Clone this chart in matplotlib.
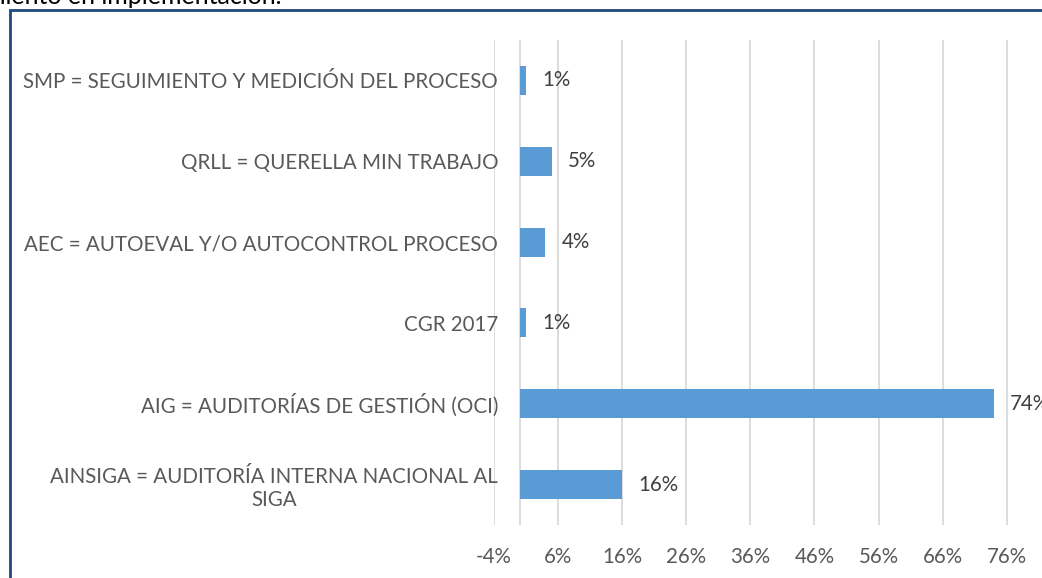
import matplotlib
matplotlib.use("Agg")
import matplotlib.pyplot as plt
from matplotlib.patches import Rectangle
from matplotlib.ticker import FuncFormatter

# datos
categorias = [
    "SMP = SEGUIMIENTO Y MEDICIÓN DEL PROCESO",
    "QRLL = QUERELLA MIN TRABAJO",
    "AEC = AUTOEVAL Y/O AUTOCONTROL PROCESO",
    "CGR 2017",
    "AIG = AUDITORÍAS DE GESTIÓN (OCI)",
    "AINSIGA = AUDITORÍA INTERNA NACIONAL AL\nSIGA",
]
valores = [0.01, 0.05, 0.04, 0.01, 0.74, 0.16]
ticks_x = [-0.04, 0.06, 0.16, 0.26, 0.36, 0.46, 0.56, 0.66, 0.76]

plt.rcParams['font.family'] = ['Lato', 'DejaVu Sans']

W, H = 1042, 578
fig = plt.figure(figsize=(W / 100, H / 100), dpi=100)
fig.patch.set_facecolor("white")

# marco azul del grafico (recortado a derecha y abajo)
fig.patches.append(Rectangle((10 / W, -0.1), 1.2, 1 - 10.5 / H + 0.1,
                             transform=fig.transFigure, fill=False,
                             edgecolor="#1F497D", linewidth=2))

# texto cortado arriba
fig.text(-15 / W, 1 - 4 / H, "miento en implementación.", fontsize=18,
         color="black", ha="left", va="baseline")

ax = fig.add_axes([494 / W, 1 - 525 / H, 1 - 494 / W, 485 / H])
y = list(range(len(categorias)))
ax.barh(y, valores, height=0.36, color="#5B9BD5", zorder=3)

ax.set_xlim(-0.04, 0.815)
ax.set_ylim(len(categorias) - 0.5, -0.5)
ax.set_xticks(ticks_x)
ax.xaxis.set_major_formatter(FuncFormatter(lambda v, p: f"{round(v * 100):d}%"))
ax.grid(axis="x", color="#D9D9D9", linewidth=1.3, zorder=0)
ax.axvline(0, color="#D9D9D9", linewidth=1.3, zorder=1)

for s in ax.spines.values():
    s.set_visible(False)

ax.set_yticks(y)
ax.set_yticklabels(categorias, multialignment="center", linespacing=1.2)
ax.tick_params(axis="y", length=0, pad=-3, labelsize=14.8, labelcolor="#595959")
ax.tick_params(axis="x", length=0, pad=16, labelsize=14.8, labelcolor="#595959")

for yi, v in zip(y, valores):
    ax.text(v + 0.025, yi, f"{round(v * 100):d}%", va="center", ha="left",
            fontsize=14.8, color="#404040", zorder=4)

fig.savefig("out.png", dpi=100)
